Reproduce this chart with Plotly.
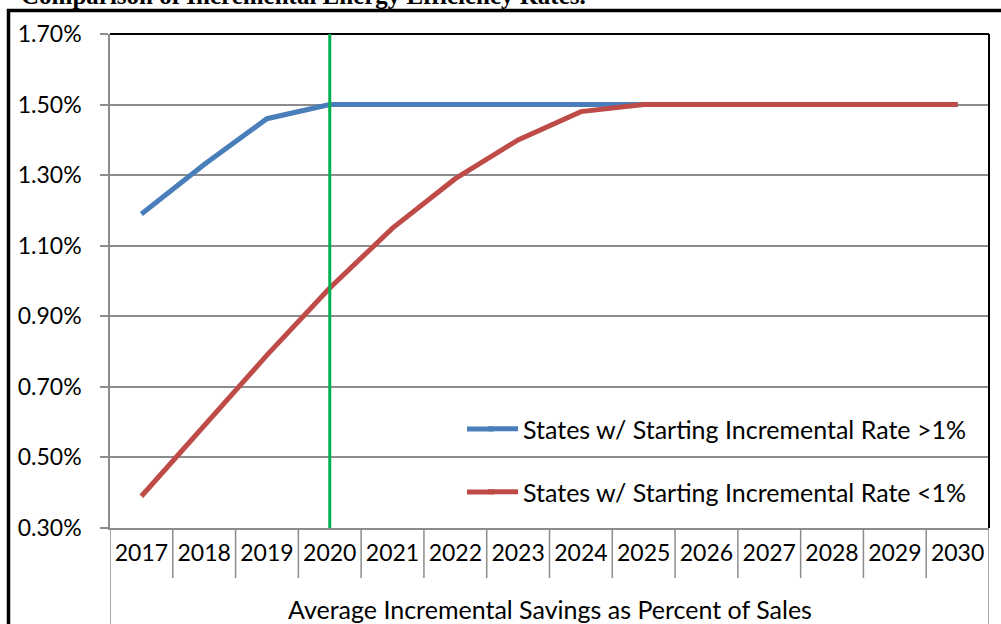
import plotly.graph_objects as go

# Incremental savings rates (% of sales) by year
years = ["2017", "2018", "2019", "2020", "2021", "2022", "2023",
         "2024", "2025", "2026", "2027", "2028", "2029", "2030"]
rate_above_1pct = [1.19, 1.33, 1.46, 1.50, 1.50, 1.50, 1.50,
                   1.50, 1.50, 1.50, 1.50, 1.50, 1.50, 1.50]
rate_below_1pct = [0.39, 0.59, 0.79, 0.98, 1.15, 1.29, 1.40,
                   1.48, 1.50, 1.50, 1.50, 1.50, 1.50, 1.50]
series_names = ["States w/ Starting Incremental Rate >1%",
                "States w/ Starting Incremental Rate <1%"]
series_colors = ["#4a7ebb", "#be4b48"]
marker_year = "2020"
y_ticks = [0.30, 0.50, 0.70, 0.90, 1.10, 1.30, 1.50, 1.70]
y_tick_text = [f"{v:.2f}%" for v in y_ticks]

FONT = "Lato"
W, H = 1001, 624
L, R, T, B = 110, 12, 34, 96
plot_w = W - L - R
plot_h = H - T - B

def px_x(p):
    return (p - L) / plot_w

def px_y(p):
    return (H - B - p) / plot_h

fig = go.Figure()
fig.add_trace(go.Scatter(x=years, y=rate_above_1pct, mode="lines", name=series_names[0],
                         line=dict(color=series_colors[0], width=5), legend="legend"))
fig.add_trace(go.Scatter(x=years, y=rate_below_1pct, mode="lines", name=series_names[1],
                         line=dict(color=series_colors[1], width=5), legend="legend2"))

shapes = []
# category separators below the axis
n = len(years)
for k in range(n + 1):
    bottom = px_y(578) if 0 < k < n else px_y(640)
    shapes.append(dict(type="line", xref="x", yref="paper", x0=k - 0.5, x1=k - 0.5,
                       y0=0, y1=bottom, line=dict(color="#8c8c8c", width=1.5)))
# plot frame top and right in black
shapes.append(dict(type="line", xref="paper", yref="paper", x0=0, x1=1, y0=1, y1=1,
                   line=dict(color="black", width=2)))
shapes.append(dict(type="line", xref="paper", yref="paper", x0=1, x1=1, y0=0, y1=1,
                   line=dict(color="black", width=2)))
# vertical marker line
shapes.append(dict(type="line", xref="x", yref="y", x0=years.index(marker_year),
                   x1=years.index(marker_year), y0=y_ticks[0], y1=y_ticks[-1],
                   line=dict(color="#00b050", width=3), layer="above"))
# longer legend keys
for yc, col in zip((429, 492), series_colors):
    shapes.append(dict(type="line", xref="paper", yref="paper",
                       x0=px_x(467), x1=px_x(494), y0=px_y(yc), y1=px_y(yc),
                       line=dict(color=col, width=5)))
# outer chart border
shapes.append(dict(type="rect", xref="paper", yref="paper",
                   x0=px_x(8.5), x1=px_x(1020), y0=px_y(10.5), y1=px_y(650),
                   line=dict(color="black", width=3.5)))

fig.update_layout(
    width=W, height=H,
    margin=dict(l=L, r=R, t=T, b=B, autoexpand=False),
    paper_bgcolor="white", plot_bgcolor="white",
    font=dict(family=FONT, size=23, color="black"),
    shapes=shapes,
    showlegend=True,
    legend=dict(x=px_x(483), y=px_y(429), xanchor="left", yanchor="middle",
                bgcolor="rgba(0,0,0,0)", font=dict(size=25, family=FONT)),
    legend2=dict(x=px_x(483), y=px_y(492), xanchor="left", yanchor="middle",
                 bgcolor="rgba(0,0,0,0)", font=dict(size=25, family=FONT)),
    annotations=[
        dict(text="<b>Comparison of Incremental Energy Efficiency Rates.</b>",
             xref="paper", yref="paper", x=px_x(19), y=px_y(11),
             xanchor="left", yanchor="bottom", showarrow=False,
             font=dict(family="Liberation Serif", size=25, color="black")),
        dict(text="Average Incremental Savings as Percent of Sales",
             xref="paper", yref="paper", x=0.5, y=px_y(609),
             xanchor="center", yanchor="middle", showarrow=False,
             font=dict(family=FONT, size=25, color="black")),
    ],
)

fig.update_xaxes(
    type="category", range=[-0.5, n - 0.5], automargin=False,
    showgrid=False, zeroline=False,
    showline=True, linecolor="#8c8c8c", linewidth=1.5,
    ticks="", ticklabelstandoff=4,
    tickfont=dict(size=23, family=FONT),
)
fig.update_yaxes(
    range=[y_ticks[0], y_ticks[-1]], tickvals=y_ticks, ticktext=y_tick_text,
    automargin=False,
    showgrid=True, gridcolor="#8c8c8c", gridwidth=1.5,
    zeroline=False, showline=True, linecolor="#8c8c8c", linewidth=1.5,
    ticks="outside", ticklen=8, tickcolor="#8c8c8c", tickwidth=1.5,
    ticklabelstandoff=14,
    tickfont=dict(size=23, family=FONT),
)

fig.write_html("out.html")
